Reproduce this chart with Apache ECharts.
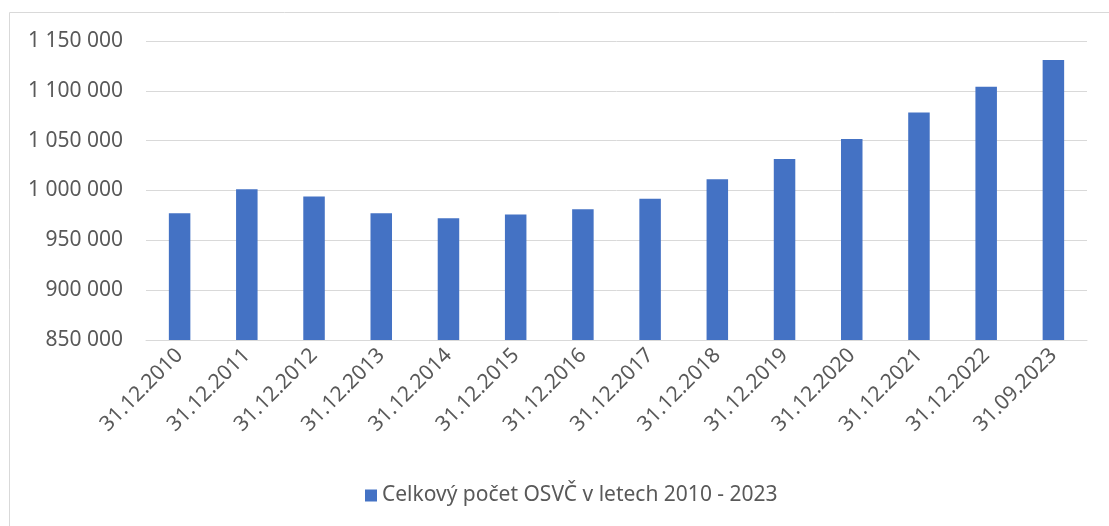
<!DOCTYPE html>
<html>
<head>
<meta charset="utf-8">
<script src="https://cdn.jsdelivr.net/npm/echarts@6/dist/echarts.min.js"></script>
<style>html,body{margin:0;padding:0;background:#fff}#c{width:1109px;height:526px}</style>
</head>
<body>
<div id="c"></div>
<script>
const categories = ['31.12.2010','31.12.2011','31.12.2012','31.12.2013','31.12.2014','31.12.2015','31.12.2016','31.12.2017','31.12.2018','31.12.2019','31.12.2020','31.12.2021','31.12.2022','31.09.2023'];
const values = [977200, 1001300, 994000, 977200, 972200, 975900, 981300, 991600, 1011400, 1031500, 1051600, 1078300, 1104100, 1130900];
const seriesName = 'Celkový počet OSVČ v letech 2010 - 2023';
const yTicks = [850000, 900000, 950000, 1000000, 1050000, 1100000, 1150000];

const fontFam = 'Noto Sans';
const chart = echarts.init(document.getElementById('c'));
chart.setOption({
  animation: false,
  textStyle: {fontFamily: fontFam},
  graphic: [
    {type: 'line', shape: {x1: 9.5, y1: 12.5, x2: 1109, y2: 12.5}, style: {stroke: '#d9d9d9', lineWidth: 1}},
    {type: 'line', shape: {x1: 9.5, y1: 12.5, x2: 9.5, y2: 526}, style: {stroke: '#d9d9d9', lineWidth: 1}}
  ],
  grid: {left: 146, right: 22, top: 41, bottom: 186},
  legend: {
    data: [seriesName],
    left: 360,
    top: 480,
    icon: 'rect',
    itemWidth: 12,
    itemHeight: 12,
    itemGap: 6,
    textStyle: {color: '#595959', fontSize: 21, fontFamily: fontFam}
  },
  xAxis: {
    type: 'category',
    data: categories,
    axisLine: {show: true, lineStyle: {color: '#d9d9d9', width: 1}},
    axisTick: {show: false},
    axisLabel: {rotate: 45, color: '#595959', fontSize: 21, margin: 12, interval: 0, fontFamily: fontFam}
  },
  yAxis: {
    type: 'value',
    min: yTicks[0],
    max: yTicks[yTicks.length - 1],
    interval: 50000,
    axisLine: {show: false},
    axisTick: {show: false},
    splitLine: {lineStyle: {color: '#d9d9d9', width: 1}},
    axisLabel: {
      color: '#595959', fontSize: 21, margin: 23, fontFamily: fontFam,
      formatter: v => String(v).replace(/\B(?=(\d{3})+(?!\d))/g, ' ')
    }
  },
  series: [{
    name: seriesName,
    type: 'bar',
    data: values,
    barWidth: '32%',
    itemStyle: {color: '#4472c4'}
  }]
});
</script>
</body>
</html>
